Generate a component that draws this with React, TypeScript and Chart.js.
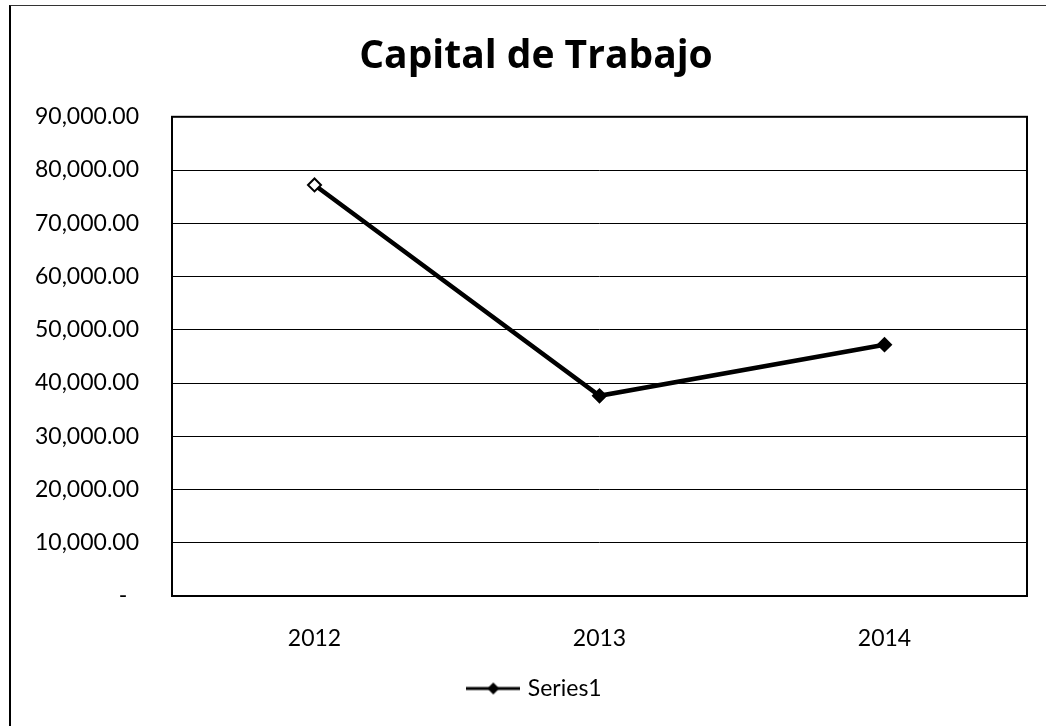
import React, { useEffect, useRef } from "react";
import { Chart, registerables } from "chart.js";

Chart.register(...registerables);

const categories: string[] = ["2012", "2013", "2014"];
const series1: number[] = [77200, 37600, 47200];
const seriesName = "Series1";
const chartTitle = "Capital de Trabajo";
const yMin = 0;
const yMax = 90000;
const yStep = 10000;

const FONT = "Lato, 'DejaVu Sans', sans-serif";
const TITLE_FONT = "'Open Sans', Lato, sans-serif";

function makeLegendMarker(): HTMLCanvasElement {
  const c = document.createElement("canvas");
  c.width = 54;
  c.height = 14;
  const ctx = c.getContext("2d")!;
  ctx.strokeStyle = "#000";
  ctx.lineWidth = 3;
  ctx.beginPath();
  ctx.moveTo(0, 7);
  ctx.lineTo(54, 7);
  ctx.stroke();
  ctx.fillStyle = "#000";
  ctx.beginPath();
  ctx.moveTo(27, 1);
  ctx.lineTo(33, 7);
  ctx.lineTo(27, 13);
  ctx.lineTo(21, 7);
  ctx.closePath();
  ctx.fill();
  return c;
}

const plotBorder = {
  id: "plotBorder",
  afterDraw(chart: any) {
    const { ctx, chartArea } = chart;
    ctx.save();
    ctx.strokeStyle = "#000";
    ctx.lineWidth = 2;
    ctx.strokeRect(chartArea.left, chartArea.top, chartArea.right - chartArea.left, chartArea.bottom - chartArea.top);
    ctx.restore();
  },
};

export default function App() {
  const ref = useRef<HTMLCanvasElement | null>(null);

  useEffect(() => {
    if (!ref.current) return;
    const marker = makeLegendMarker();
    const chart = new Chart(ref.current, {
      type: "line",
      data: {
        labels: categories,
        datasets: [
          {
            label: seriesName,
            data: series1,
            borderColor: "#000",
            borderWidth: 4.5,
            tension: 0,
            pointStyle: "rectRot",
            pointRadius: 6.5,
            pointBorderWidth: 2,
            pointBorderColor: "#000",
            pointBackgroundColor: ["#fff", "#000", "#000"],
          },
        ],
      },
      options: {
        animation: false,
        responsive: false,
        layout: { padding: { left: 9, right: 1, top: 0, bottom: 16 } },
        plugins: {
          title: {
            display: true,
            text: chartTitle,
            color: "#000",
            font: { family: TITLE_FONT, size: 39, weight: "bold" },
            padding: { top: 33, bottom: 37 },
          },
          legend: {
            display: true,
            position: "bottom",
            labels: {
              usePointStyle: true,
              pointStyleWidth: 46,
              padding: 10,
              color: "#000",
              font: { family: FONT, size: 23 },
              generateLabels: () => [
                {
                  text: seriesName,
                  pointStyle: marker as any,
                  fillStyle: "#000",
                  strokeStyle: "#000",
                  lineWidth: 0,
                  hidden: false,
                  datasetIndex: 0,
                  fontColor: "#000",
                } as any,
              ],
            },
          },
          tooltip: { enabled: false },
        },
        scales: {
          x: {
            offset: true,
            grid: { display: false },
            border: { display: false },
            ticks: {
              color: "#000",
              font: { family: FONT, size: 23 },
              padding: 21,
            },
            afterFit: (scale: any) => {
              scale.height = 71;
            },
          },
          y: {
            min: yMin,
            max: yMax,
            grid: { color: "#000", lineWidth: 1, drawTicks: false },
            border: { display: false },
            ticks: {
              stepSize: yStep,
              color: "#000",
              padding: 33,
              font: { family: FONT, size: 23 },
              callback: (value: any) =>
                Number(value) === 0
                  ? "-  "
                  : Number(value).toLocaleString("en-US", {
                      minimumFractionDigits: 2,
                      maximumFractionDigits: 2,
                    }),
            },
            afterFit: (scale: any) => {
              scale.width = 163;
            },
          },
          yRightSpacer: {
            position: "right",
            display: true,
            grid: { display: false },
            border: { display: false },
            ticks: { display: false },
            afterFit: (scale: any) => {
              scale.width = 36;
            },
          },
        },
      },
      plugins: [plotBorder],
    });
    return () => chart.destroy();
  }, []);

  return (
    <div
      style={{
        position: "fixed",
        left: 0,
        top: 0,
        width: 1046,
        height: 726,
        overflow: "hidden",
        background: "#fff",
      }}
    >
      <div
        style={{
          position: "absolute",
          left: 9,
          top: 5,
          width: 1200,
          height: 900,
          borderLeft: "2px solid #000",
          borderTop: "1px solid #333",
          boxSizing: "border-box",
        }}
      />
      <div style={{ position: "absolute", left: 0, top: 0, width: 1064, height: 726 }}>
        <canvas ref={ref} width={1064} height={726} style={{ display: "block" }} />
      </div>
    </div>
  );
}
